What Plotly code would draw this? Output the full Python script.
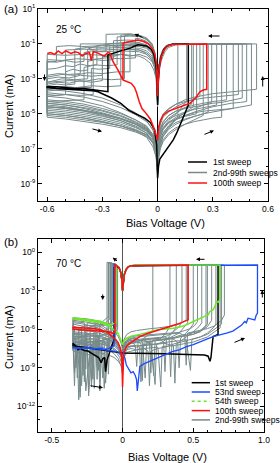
import plotly.graph_objects as go

W, H = 280, 463
FONT = "Liberation Sans, Arial, sans-serif"
GRAY = "#778a8a"
RED = "#ff1010"
BLUE = "#1a4cff"
GREEN = "#6ee62a"
BLACK = "#000000"

# ================= Panel (a) 25 °C : (bias V, log10 current in mA) =================
a_first_sweep = [
    (0.000, -8.7), (0.005, -8.0), (0.012, -7.6), (0.031, -7.3), (0.06, -6.9), (0.085, -6.5),
    (0.104, -6.1), (0.125, -5.6), (0.149, -5.0), (0.160, -4.7), (0.167, -4.5),
    (0.167, -1.0), (0.12, -1.0), (0.08, -1.02), (0.055, -1.1), (0.035, -1.3), (0.02, -1.7),
    (0.01, -2.2), (0.004, -3.0), (0.0, -4.5),
    (-0.004, -3.0), (-0.01, -2.2), (-0.02, -1.6), (-0.035, -1.3), (-0.06, -1.12), (-0.09, -1.06),
    (-0.107, -1.05), (-0.13, -1.15), (-0.145, -1.23), (-0.2, -1.4), (-0.24, -1.55), (-0.27, -1.64),
    (-0.27, -3.74), (-0.3, -3.7), (-0.35, -3.6), (-0.4, -3.55), (-0.45, -3.55), (-0.5, -3.5),
    (-0.55, -3.45), (-0.6, -3.45),
    (-0.6, -3.5), (-0.55, -3.55), (-0.5, -3.6), (-0.45, -3.62), (-0.4, -3.65), (-0.35, -3.68),
    (-0.324, -3.74), (-0.29, -3.9), (-0.25, -4.1), (-0.2, -4.4), (-0.158, -4.79), (-0.12, -5.0),
    (-0.07, -5.25), (-0.04, -5.5), (-0.016, -5.93), (-0.005, -6.8), (0.0, -8.7),
]

a_sweep_100 = [
    (0.000, -6.5), (0.005, -5.8), (0.015, -5.4), (0.031, -5.07), (0.06, -4.85), (0.09, -4.72),
    (0.122, -4.6), (0.15, -4.5), (0.176, -4.4), (0.195, -4.2), (0.212, -4.03), (0.222, -3.85),
    (0.23, -3.74), (0.248, -3.64), (0.267, -3.6),
    (0.267, -1.0), (0.2, -1.0), (0.12, -1.0), (0.08, -1.03), (0.055, -1.12), (0.035, -1.35),
    (0.02, -1.75), (0.01, -2.3), (0.004, -3.1), (0.0, -4.0),
    (-0.004, -2.8), (-0.007, -2.1), (-0.015, -1.6), (-0.025, -1.35), (-0.05, -1.0), (-0.08, -0.85),
    (-0.107, -0.78), (-0.14, -0.82), (-0.17, -0.9), (-0.188, -0.97),
    (-0.188, -3.07), (-0.215, -2.5), (-0.242, -2.02), (-0.26, -1.54),
    (-0.27, -1.5), (-0.29, -1.7), (-0.31, -1.6), (-0.33, -1.5), (-0.35, -1.45), (-0.36, -1.95),
    (-0.37, -1.5), (-0.39, -1.55), (-0.41, -1.7), (-0.43, -1.5), (-0.45, -1.45), (-0.47, -1.55),
    (-0.5, -1.4), (-0.52, -1.55), (-0.54, -1.4), (-0.56, -1.6), (-0.58, -1.5), (-0.6, -1.55),
    (None, None),
    (-0.188, -3.07), (-0.143, -3.26), (-0.125, -3.5), (-0.116, -3.74), (-0.1, -4.3),
    (-0.085, -4.7), (-0.07, -4.88), (-0.04, -5.3), (-0.016, -5.93), (0.0, -6.5),
]

a_gray_01 = [
    (0, -7.6), (0.005, -6.6), (0.015, -6.1), (0.03, -5.8), (0.06, -5.4), (0.09, -5.1), (0.12, -4.8),
    (0.14, -4.5), (0.158, -4.3), (0.158, -1.0), (0.1, -1.0), (0.07, -1.05), (0.045, -1.2),
    (0.03, -1.45), (0.015, -1.9), (0.006, -2.6), (0.0, -4.2), (-0.006, -2.6), (-0.015, -1.9),
    (-0.03, -1.45), (-0.06, -1.1), (-0.1, -0.92), (-0.15, -0.88), (-0.2, -0.95), (-0.25, -1.0),
    (-0.3, -1.05), (-0.33, -1.1), (-0.33, -2.2), (-0.38, -2.25), (-0.42, -2.15), (-0.46, -2.3),
    (-0.5, -2.25), (-0.55, -2.4), (-0.6, -2.45), (-0.6, -4.0), (-0.5, -4.1), (-0.4, -4.3),
    (-0.3, -4.55), (-0.2, -4.95), (-0.12, -5.35), (-0.06, -5.7), (-0.025, -6.2), (-0.008, -6.8), (0, -7.6),
]
a_gray_02 = [
    (0, -8.0), (0.005, -7.0), (0.015, -6.5), (0.03, -6.1), (0.06, -5.7), (0.1, -5.3), (0.14, -5.0),
    (0.17, -4.8), (0.194, -4.6), (0.194, -1.0), (0.1, -1.0), (0.06, -1.08), (0.04, -1.25),
    (0.025, -1.5), (0.012, -2.0), (0.005, -2.7), (0.0, -4.5), (-0.005, -2.5), (-0.012, -1.8),
    (-0.025, -1.2), (-0.05, -0.8), (-0.1, -0.55), (-0.15, -0.45), (-0.2, -0.5), (-0.2, -1.6),
    (-0.24, -1.65), (-0.28, -1.7), (-0.3, -1.75), (-0.3, -2.8), (-0.36, -2.85), (-0.42, -2.8),
    (-0.48, -2.95), (-0.54, -2.9), (-0.6, -3.0), (-0.6, -4.4), (-0.5, -4.5), (-0.4, -4.65),
    (-0.3, -4.85), (-0.2, -5.15), (-0.12, -5.5), (-0.06, -5.85), (-0.025, -6.4), (-0.008, -7.0), (0, -8.0),
]
a_gray_03 = [
    (0, -7.2), (0.005, -6.2), (0.015, -5.6), (0.03, -5.2), (0.06, -4.9), (0.1, -4.6), (0.15, -4.35),
    (0.2, -4.15), (0.23, -4.0), (0.23, -1.0), (0.12, -1.0), (0.08, -1.02), (0.05, -1.15),
    (0.03, -1.4), (0.015, -1.85), (0.006, -2.5), (0.0, -4.0), (-0.006, -2.7), (-0.015, -2.1),
    (-0.03, -1.7), (-0.06, -1.4), (-0.1, -1.25), (-0.2, -1.2), (-0.3, -1.25), (-0.38, -1.2),
    (-0.45, -1.3), (-0.45, -3.3), (-0.5, -3.35), (-0.55, -3.3), (-0.6, -3.4), (-0.6, -4.8),
    (-0.5, -4.9), (-0.4, -5.05), (-0.3, -5.25), (-0.2, -5.5), (-0.12, -5.8), (-0.06, -6.1),
    (-0.025, -6.5), (-0.008, -7.0), (0, -7.2),
]
a_gray_04 = [
    (0, -8.2), (0.005, -7.2), (0.015, -6.7), (0.03, -6.3), (0.06, -5.9), (0.1, -5.6), (0.15, -5.35),
    (0.2, -5.15), (0.25, -5.0), (0.275, -4.9), (0.275, -1.0), (0.12, -1.0), (0.07, -1.02),
    (0.045, -1.1), (0.03, -1.3), (0.015, -1.7), (0.006, -2.3), (0.0, -3.8), (-0.006, -2.2),
    (-0.015, -1.5), (-0.03, -1.0), (-0.06, -0.65), (-0.1, -0.5), (-0.15, -0.42), (-0.2, -0.43),
    (-0.28, -0.45), (-0.28, -1.4), (-0.32, -1.45), (-0.36, -1.4), (-0.4, -1.5), (-0.4, -2.0),
    (-0.45, -2.05), (-0.5, -1.95), (-0.55, -2.05), (-0.6, -2.0), (-0.6, -3.8), (-0.5, -3.9),
    (-0.4, -4.05), (-0.3, -4.3), (-0.2, -4.65), (-0.12, -5.05), (-0.06, -5.45), (-0.025, -5.9),
    (-0.008, -6.6), (0, -8.2),
]
a_gray_05 = [
    (0, -7.0), (0.005, -6.4), (0.015, -5.9), (0.03, -5.6), (0.06, -5.3), (0.1, -5.1), (0.15, -4.9),
    (0.2, -4.75), (0.25, -4.65), (0.3, -4.55), (0.321, -4.5), (0.321, -1.0), (0.15, -1.0),
    (0.09, -1.02), (0.06, -1.1), (0.04, -1.3), (0.02, -1.75), (0.008, -2.4), (0.0, -4.4),
    (-0.008, -2.8), (-0.02, -2.2), (-0.04, -1.8), (-0.07, -1.5), (-0.1, -1.35), (-0.2, -1.3),
    (-0.3, -1.35), (-0.4, -1.3), (-0.5, -1.35), (-0.5, -3.6), (-0.55, -3.65), (-0.6, -3.7),
    (-0.6, -5.1), (-0.5, -5.2), (-0.4, -5.35), (-0.3, -5.5), (-0.2, -5.7), (-0.12, -5.95),
    (-0.06, -6.2), (-0.025, -6.5), (-0.008, -6.8), (0, -7.0),
]
a_gray_06 = [
    (0, -8.4), (0.005, -7.4), (0.015, -6.9), (0.03, -6.5), (0.06, -6.1), (0.1, -5.8), (0.15, -5.6),
    (0.2, -5.45), (0.25, -5.35), (0.3, -5.25), (0.348, -5.2), (0.348, -1.0), (0.12, -1.0),
    (0.08, -1.02), (0.05, -1.12), (0.03, -1.35), (0.015, -1.8), (0.006, -2.45), (0.0, -4.3),
    (-0.006, -2.5), (-0.015, -1.8), (-0.03, -1.35), (-0.06, -1.1), (-0.1, -1.0), (-0.15, -1.0),
    (-0.15, -2.6), (-0.22, -2.6), (-0.3, -2.7), (-0.38, -2.65), (-0.45, -2.8), (-0.52, -2.75),
    (-0.6, -2.9), (-0.6, -4.2), (-0.5, -4.3), (-0.4, -4.45), (-0.3, -4.7), (-0.2, -5.0),
    (-0.12, -5.35), (-0.06, -5.75), (-0.025, -6.3), (-0.008, -7.1), (0, -8.4),
]
a_gray_07 = [
    (0, -7.4), (0.005, -6.5), (0.015, -5.9), (0.03, -5.5), (0.06, -5.1), (0.1, -4.85), (0.15, -4.65),
    (0.2, -4.5), (0.25, -4.4), (0.3, -4.3), (0.35, -4.25), (0.375, -4.2), (0.375, -1.0),
    (0.15, -1.0), (0.1, -1.05), (0.06, -1.2), (0.04, -1.45), (0.02, -1.95), (0.008, -2.6),
    (0.0, -4.6), (-0.008, -3.0), (-0.02, -2.5), (-0.04, -2.1), (-0.07, -1.85), (-0.1, -1.7),
    (-0.2, -1.6), (-0.3, -1.65), (-0.4, -1.6), (-0.5, -1.65), (-0.6, -1.6), (-0.6, -4.6),
    (-0.5, -4.7), (-0.4, -4.85), (-0.3, -5.05), (-0.2, -5.3), (-0.12, -5.6), (-0.06, -5.95),
    (-0.025, -6.4), (-0.008, -6.9), (0, -7.4),
]
a_gray_08 = [
    (0, -7.8), (0.005, -6.9), (0.015, -6.3), (0.03, -5.9), (0.06, -5.55), (0.1, -5.3), (0.15, -5.1),
    (0.2, -4.95), (0.25, -4.85), (0.3, -4.8), (0.35, -4.75), (0.411, -4.7), (0.411, -1.0),
    (0.12, -1.0), (0.075, -1.03), (0.05, -1.12), (0.03, -1.35), (0.015, -1.8), (0.006, -2.45),
    (0.0, -4.1), (-0.006, -2.3), (-0.015, -1.6), (-0.03, -1.15), (-0.06, -0.9), (-0.1, -0.8),
    (-0.17, -0.78), (-0.24, -0.82), (-0.24, -1.9), (-0.3, -1.95), (-0.34, -1.9), (-0.38, -2.0),
    (-0.38, -3.0), (-0.45, -3.05), (-0.52, -3.0), (-0.6, -3.2), (-0.6, -5.0), (-0.5, -5.1),
    (-0.4, -5.25), (-0.3, -5.45), (-0.2, -5.7), (-0.12, -5.95), (-0.06, -6.25), (-0.025, -6.7),
    (-0.008, -7.2), (0, -7.8),
]
a_gray_09 = [
    (0, -6.8), (0.005, -6.0), (0.015, -5.4), (0.03, -5.0), (0.06, -4.7), (0.1, -4.45), (0.15, -4.3),
    (0.2, -4.2), (0.25, -4.1), (0.3, -4.05), (0.35, -4.0), (0.4, -3.95), (0.439, -3.9),
    (0.439, -1.0), (0.12, -1.0), (0.08, -1.02), (0.05, -1.15), (0.03, -1.4), (0.015, -1.85),
    (0.006, -2.5), (0.0, -3.9), (-0.006, -2.6), (-0.015, -2.0), (-0.03, -1.55), (-0.06, -1.25),
    (-0.1, -1.15), (-0.2, -1.1), (-0.3, -1.1), (-0.4, -1.15), (-0.48, -1.1), (-0.55, -1.15),
    (-0.55, -2.0), (-0.6, -2.05), (-0.6, -4.4), (-0.5, -4.5), (-0.4, -4.7), (-0.3, -4.95),
    (-0.2, -5.25), (-0.12, -5.55), (-0.06, -5.85), (-0.025, -6.2), (-0.008, -6.5), (0, -6.8),
]
a_gray_10 = [
    (0, -8.0), (0.005, -7.1), (0.015, -6.5), (0.03, -6.1), (0.06, -5.7), (0.1, -5.35), (0.15, -5.1),
    (0.2, -4.9), (0.25, -4.75), (0.3, -4.6), (0.35, -4.5), (0.4, -4.4), (0.45, -4.35), (0.484, -4.3),
    (0.484, -1.0), (0.12, -1.0), (0.075, -1.03), (0.05, -1.1), (0.03, -1.3), (0.015, -1.75),
    (0.006, -2.4), (0.0, -4.0), (-0.006, -2.4), (-0.015, -1.7), (-0.03, -1.2), (-0.06, -0.85),
    (-0.1, -0.7), (-0.12, -0.68), (-0.12, -1.8), (-0.2, -1.85), (-0.28, -1.8), (-0.36, -1.9),
    (-0.44, -1.85), (-0.52, -1.95), (-0.6, -1.9), (-0.6, -3.6), (-0.5, -3.7), (-0.4, -3.85),
    (-0.3, -4.1), (-0.2, -4.5), (-0.12, -4.95), (-0.06, -5.4), (-0.025, -5.95), (-0.008, -6.8), (0, -8.0),
]
a_gray_11 = [
    (0, -7.0), (0.005, -6.1), (0.015, -5.5), (0.03, -5.1), (0.06, -4.75), (0.1, -4.45), (0.15, -4.2),
    (0.2, -4.05), (0.25, -3.95), (0.3, -3.85), (0.35, -3.8), (0.4, -3.75), (0.45, -3.7), (0.5, -3.65),
    (0.538, -3.6), (0.538, -1.0), (0.12, -1.0), (0.08, -1.02), (0.05, -1.15), (0.03, -1.4),
    (0.015, -1.85), (0.006, -2.5), (0.0, -4.3), (-0.006, -2.9), (-0.015, -2.3), (-0.03, -1.9),
    (-0.06, -1.6), (-0.1, -1.45), (-0.2, -1.4), (-0.3, -1.45), (-0.35, -1.4), (-0.35, -3.9),
    (-0.42, -3.95), (-0.5, -3.9), (-0.6, -4.0), (-0.6, -5.2), (-0.5, -5.3), (-0.4, -5.45),
    (-0.3, -5.6), (-0.2, -5.8), (-0.12, -6.05), (-0.06, -6.3), (-0.025, -6.6), (-0.008, -6.85), (0, -7.0),
]
a_gray_12 = [
    (0, -7.4), (0.005, -6.6), (0.015, -6.1), (0.03, -5.8), (0.06, -5.5), (0.1, -5.3), (0.15, -5.15),
    (0.19, -5.05), (0.212, -5.0), (0.212, -1.0), (0.12, -1.0), (0.08, -1.02), (0.05, -1.12),
    (0.03, -1.35), (0.015, -1.8), (0.006, -2.45), (0.0, -3.9), (-0.006, -2.45), (-0.015, -1.8),
    (-0.03, -1.35), (-0.06, -1.05), (-0.1, -0.95), (-0.2, -0.95), (-0.3, -1.0), (-0.42, -1.0),
    (-0.42, -2.7), (-0.48, -2.75), (-0.54, -2.7), (-0.6, -2.8), (-0.6, -4.7), (-0.5, -4.8),
    (-0.4, -4.95), (-0.3, -5.15), (-0.2, -5.4), (-0.12, -5.7), (-0.06, -6.0), (-0.025, -6.4),
    (-0.008, -6.9), (0, -7.4),
]
a_gray_13 = [
    (0, -8.5), (0.005, -7.5), (0.015, -6.8), (0.03, -6.3), (0.06, -5.8), (0.09, -5.4), (0.11, -5.2),
    (0.11, -1.0), (0.08, -1.02), (0.05, -1.15), (0.03, -1.4), (0.015, -1.85), (0.006, -2.5),
    (0.0, -4.5), (-0.006, -2.35), (-0.015, -1.65), (-0.03, -1.1), (-0.06, -0.75), (-0.1, -0.55),
    (-0.15, -0.5), (-0.18, -0.52), (-0.18, -3.0), (-0.25, -3.05), (-0.32, -3.0), (-0.4, -3.15),
    (-0.48, -3.1), (-0.6, -3.2), (-0.6, -4.9), (-0.5, -5.0), (-0.4, -5.15), (-0.3, -5.35),
    (-0.2, -5.6), (-0.12, -5.9), (-0.06, -6.2), (-0.025, -6.6), (-0.008, -7.2), (0, -8.5),
]
a_gray_14 = [
    (0, -7.9), (0.005, -6.9), (0.015, -6.3), (0.03, -5.9), (0.06, -5.5), (0.1, -5.2), (0.15, -4.95),
    (0.2, -4.7), (0.25, -4.5), (0.294, -4.35), (0.294, -1.0), (0.12, -1.0), (0.08, -1.02),
    (0.05, -1.12), (0.03, -1.35), (0.015, -1.8), (0.006, -2.45), (0.0, -4.0), (-0.006, -2.6),
    (-0.015, -2.0), (-0.03, -1.5), (-0.06, -1.2), (-0.1, -1.05), (-0.2, -1.05), (-0.26, -1.1),
    (-0.26, -2.4), (-0.32, -2.45), (-0.36, -2.4), (-0.36, -3.5), (-0.45, -3.5), (-0.52, -3.45),
    (-0.6, -3.6), (-0.6, -4.5), (-0.5, -4.6), (-0.4, -4.8), (-0.3, -5.0), (-0.2, -5.3),
    (-0.12, -5.6), (-0.06, -5.9), (-0.025, -6.3), (-0.008, -6.9), (0, -7.9),
]
# sweeps given as (positive HRS branch, negative branch); joined through the common LRS return
a_lrs_return = [(0.12, -1.0), (0.08, -1.02), (0.05, -1.12), (0.03, -1.35), (0.015, -1.8),
                (0.006, -2.45), (0.0, -4.2)]
a_gray_15_pos = [(0, -7.3), (0.005, -6.5), (0.015, -6.0), (0.03, -5.65), (0.06, -5.25), (0.1, -4.95),
                 (0.14, -4.7), (0.185, -4.45)]
a_gray_15_neg = [(-0.006, -2.5), (-0.015, -1.85), (-0.03, -1.4), (-0.06, -1.15), (-0.1, -1.05),
                 (-0.14, -1.1), (-0.18, -1.05), (-0.22, -1.15), (-0.26, -1.1), (-0.3, -1.2),
                 (-0.34, -1.15), (-0.38, -1.3), (-0.38, -2.5), (-0.42, -2.55), (-0.46, -2.45),
                 (-0.5, -2.6), (-0.5, -3.9), (-0.55, -3.95), (-0.6, -3.9), (-0.6, -4.3), (-0.5, -4.4),
                 (-0.4, -4.55), (-0.3, -4.8), (-0.2, -5.1), (-0.12, -5.45), (-0.06, -5.8),
                 (-0.025, -6.3), (-0.008, -6.9), (0, -7.3)]
a_gray_16_pos = [(0, -8.6), (0.005, -7.6), (0.015, -7.0), (0.03, -6.6), (0.06, -6.2), (0.1, -5.9),
                 (0.15, -5.6), (0.2, -5.35), (0.248, -5.1)]
a_gray_16_neg = [(-0.006, -2.9), (-0.015, -2.4), (-0.03, -2.0), (-0.06, -1.75), (-0.1, -1.6),
                 (-0.15, -1.7), (-0.2, -1.6), (-0.25, -1.75), (-0.3, -1.7), (-0.3, -3.1),
                 (-0.36, -3.2), (-0.42, -3.1), (-0.48, -3.25), (-0.54, -3.2), (-0.6, -3.3),
                 (-0.6, -4.6), (-0.5, -4.7), (-0.4, -4.85), (-0.3, -5.1), (-0.2, -5.4),
                 (-0.12, -5.75), (-0.06, -6.1), (-0.025, -6.7), (-0.008, -7.5), (0, -8.6)]
a_gray_17_pos = [(0, -7.1), (0.005, -6.3), (0.015, -5.8), (0.03, -5.45), (0.06, -5.1), (0.1, -4.85),
                 (0.15, -4.7), (0.2, -4.6), (0.25, -4.5), (0.3, -4.4), (0.35, -4.35), (0.4, -4.25),
                 (0.46, -4.1)]
a_gray_17_neg = [(-0.006, -2.2), (-0.015, -1.5), (-0.03, -1.0), (-0.06, -0.7), (-0.1, -0.58),
                 (-0.15, -0.55), (-0.22, -0.6), (-0.22, -2.2), (-0.28, -2.25), (-0.34, -2.2),
                 (-0.4, -2.35), (-0.4, -4.2), (-0.5, -4.25), (-0.6, -4.3), (-0.6, -4.6),
                 (-0.5, -4.65), (-0.4, -4.8), (-0.3, -5.0), (-0.2, -5.3), (-0.12, -5.6),
                 (-0.06, -5.95), (-0.025, -6.4), (-0.008, -6.8), (0, -7.1)]
a_gray_18_pos = [(0, -8.1), (0.005, -7.2), (0.015, -6.6), (0.03, -6.2), (0.06, -5.8), (0.1, -5.5),
                 (0.15, -5.3), (0.2, -5.15), (0.25, -5.0), (0.3, -4.9), (0.35, -4.8), (0.4, -4.7),
                 (0.45, -4.6), (0.51, -4.5)]
a_gray_18_neg = [(-0.006, -2.7), (-0.015, -2.2), (-0.03, -1.8), (-0.06, -1.5), (-0.1, -1.35),
                 (-0.16, -1.3), (-0.2, -1.35), (-0.2, -3.4), (-0.28, -3.45), (-0.36, -3.4),
                 (-0.44, -3.5), (-0.52, -3.45), (-0.6, -3.5), (-0.6, -5.0), (-0.5, -5.1),
                 (-0.4, -5.25), (-0.3, -5.45), (-0.2, -5.7), (-0.12, -6.0), (-0.06, -6.35),
                 (-0.025, -6.9), (-0.008, -7.5), (0, -8.1)]

a_gray_sweeps = [a_gray_01, a_gray_02, a_gray_03, a_gray_04, a_gray_05, a_gray_06, a_gray_07,
                 a_gray_08, a_gray_09, a_gray_10, a_gray_11, a_gray_12, a_gray_13, a_gray_14]
a_gray_pairs = [(a_gray_15_pos, a_gray_15_neg), (a_gray_16_pos, a_gray_16_neg),
                (a_gray_17_pos, a_gray_17_neg), (a_gray_18_pos, a_gray_18_neg)]
a_compliance = -1.0

# ================= Panel (b) 70 °C =================
b_compliance = -1.0
b_lrs_dip = [(0.10, -1.0), (0.06, -1.05), (0.04, -1.15), (0.025, -1.35), (0.012, -1.75),
             (0.005, -2.3), (0.0, -3.0), (-0.005, -2.2), (-0.012, -1.6), (-0.025, -1.2)]

b_first_pos = [(0, -7.85), (0.1, -7.85), (0.2, -7.9), (0.3, -7.9), (0.4, -7.95), (0.5, -7.95),
               (0.58, -8.0), (0.605, -8.1), (0.618, -8.5), (0.625, -8.2), (0.64, -6.57),
               (0.655, -6.5), (0.675, -6.4)]
b_first_neg = [(-0.045, -1.15), (-0.06, -1.2), (-0.06, -6.8), (-0.085, -7.6), (-0.1, -8.0),
               (-0.11, -8.4), (-0.12, -9.3), (-0.127, -8.2), (-0.14, -8.3), (-0.151, -8.6),
               (-0.17, -8.2), (-0.2, -8.0), (-0.22, -7.8), (-0.245, -7.7), (-0.27, -7.65),
               (-0.3, -7.5), (-0.315, -7.6), (-0.33, -7.3), (-0.35, -7.1), (-0.35, -7.3),
               (-0.25, -7.45), (-0.15, -7.6), (-0.05, -7.75), (0, -7.85)]

b_53rd_pos = [(0, -7.9), (0.017, -8.25), (0.026, -8.77), (0.045, -9.2), (0.059, -9.4), (0.075, -9.3),
              (0.09, -9.6), (0.099, -9.93), (0.104, -10.8), (0.11, -10.2), (0.115, -9.5),
              (0.122, -8.9), (0.15, -8.7), (0.193, -8.5), (0.24, -8.25), (0.287, -8.0),
              (0.35, -7.75), (0.4, -7.6), (0.452, -7.35), (0.5, -7.2), (0.55, -7.0), (0.6, -6.75),
              (0.64, -6.57), (0.69, -6.45), (0.735, -6.3), (0.78, -6.15), (0.817, -5.9),
              (0.84, -5.7), (0.864, -5.4), (0.875, -5.5), (0.887, -5.14), (0.91, -5.2),
              (0.935, -5.27), (0.945, -4.9), (0.954, -4.75)]
b_53rd_neg = [(-0.04, -1.05), (-0.06, -0.95), (-0.06, -7.3), (-0.1, -7.5), (-0.127, -7.6),
              (-0.15, -7.45), (-0.2, -7.55), (-0.25, -7.4), (-0.3, -7.5), (-0.35, -7.45),
              (-0.35, -7.4), (-0.3, -7.45), (-0.2, -7.5), (-0.1, -7.65), (-0.04, -7.75), (0, -7.9)]

b_54th_pos = [(0, -7.2), (0.01, -6.9), (0.03, -6.7), (0.06, -6.55), (0.122, -6.4), (0.18, -6.2),
              (0.24, -6.05), (0.3, -5.98), (0.358, -5.92), (0.41, -5.8), (0.452, -5.66),
              (0.5, -5.4), (0.546, -5.14), (0.58, -5.0), (0.605, -4.88), (0.617, -4.63),
              (0.64, -4.5), (0.652, -4.24), (0.664, -3.85), (0.675, -3.9), (0.688, -3.7)]
b_54th_neg = [(-0.045, -1.0), (-0.045, -5.5), (-0.09, -5.66), (-0.15, -5.4), (-0.2, -5.3),
              (-0.25, -5.25), (-0.3, -5.18), (-0.35, -5.14), (-0.35, -5.2), (-0.25, -5.35),
              (-0.15, -5.5), (-0.09, -5.8), (-0.033, -6.3), (-0.01, -6.9), (0, -7.2)]

b_100th_pos = [(0, -10.5), (0.003, -8.5), (0.008, -7.8), (0.017, -7.6), (0.03, -7.3), (0.052, -7.08),
               (0.08, -6.85), (0.122, -6.57), (0.17, -6.35), (0.216, -6.18), (0.27, -6.0),
               (0.334, -5.79), (0.39, -5.6), (0.43, -5.45), (0.464, -5.27)]
b_100th_neg = [(-0.04, -1.08), (-0.054, -0.98), (-0.054, -6.2), (-0.07, -6.3), (-0.1, -6.2),
               (-0.15, -6.15), (-0.2, -6.1), (-0.25, -6.05), (-0.3, -6.0), (-0.35, -6.0),
               (-0.35, -5.85), (-0.3, -5.88), (-0.25, -5.9), (-0.2, -5.95), (-0.15, -6.05),
               (-0.1, -6.3), (-0.06, -6.7), (-0.033, -7.0), (-0.015, -7.5), (-0.005, -8.3), (0, -10.5)]

b_gray_01_pos = [(0, -8.6), (0.01, -7.4), (0.03, -7.0), (0.06, -6.8), (0.09, -7.3), (0.1, -8.9),
                 (0.11, -7.0), (0.15, -6.7), (0.19, -6.4), (0.214, -6.1)]
b_gray_01_neg = [(-0.05, -0.95), (-0.08, -0.85), (-0.10, -0.82), (-0.10, -5.0), (-0.13, -5.3),
                 (-0.16, -5.6), (-0.18, -8.9), (-0.19, -5.7), (-0.23, -5.8), (-0.26, -6.0),
                 (-0.28, -9.6), (-0.29, -6.1), (-0.32, -6.0), (-0.35, -5.9), (-0.35, -5.6),
                 (-0.3, -5.7), (-0.25, -5.8), (-0.2, -5.95), (-0.15, -6.15), (-0.1, -6.45),
                 (-0.06, -6.8), (-0.03, -7.2), (-0.01, -7.8), (0, -8.6)]
b_gray_02_pos = [(0, -8.0), (0.01, -7.2), (0.03, -6.9), (0.06, -6.75), (0.1, -6.7), (0.14, -7.0),
                 (0.16, -9.8), (0.17, -7.1), (0.22, -6.9), (0.26, -6.8), (0.3, -6.4), (0.32, -6.0),
                 (0.335, -5.8)]
b_gray_02_neg = [(-0.04, -1.0), (-0.04, -6.3), (-0.07, -6.6), (-0.1, -6.8), (-0.12, -10.2),
                 (-0.13, -6.9), (-0.17, -7.0), (-0.21, -7.1), (-0.24, -11.0), (-0.25, -7.2),
                 (-0.3, -7.1), (-0.35, -7.0), (-0.35, -6.6), (-0.3, -6.65), (-0.2, -6.75),
                 (-0.15, -6.9), (-0.1, -7.05), (-0.06, -7.3), (-0.03, -7.6), (-0.01, -7.9), (0, -8.0)]
b_gray_03_pos = [(0, -9.0), (0.01, -7.8), (0.03, -7.4), (0.06, -7.3), (0.1, -7.4), (0.15, -7.2),
                 (0.2, -7.1), (0.23, -10.3), (0.24, -7.2), (0.28, -7.0), (0.32, -6.7), (0.35, -6.3),
                 (0.37, -6.0), (0.38, -5.7)]
b_gray_03_neg = [(-0.05, -0.95), (-0.07, -0.9), (-0.07, -5.4), (-0.1, -5.6), (-0.14, -5.75),
                 (-0.17, -5.8), (-0.2, -5.85), (-0.22, -10.5), (-0.23, -6.0), (-0.27, -5.95),
                 (-0.31, -6.1), (-0.33, -9.0), (-0.34, -6.0), (-0.35, -5.9), (-0.35, -5.3),
                 (-0.3, -5.35), (-0.25, -5.45), (-0.2, -5.6), (-0.15, -5.85), (-0.1, -6.2),
                 (-0.06, -6.7), (-0.03, -7.3), (-0.01, -8.1), (0, -9.0)]
b_gray_04_pos = [(0, -8.3), (0.01, -7.5), (0.03, -7.2), (0.06, -7.0), (0.1, -6.95), (0.15, -6.8),
                 (0.2, -6.75), (0.25, -6.7), (0.29, -7.0), (0.3, -9.3), (0.31, -6.8), (0.35, -6.55),
                 (0.4, -6.3), (0.43, -5.9), (0.46, -5.5)]
b_gray_04_neg = [(-0.05, -1.0), (-0.05, -7.0), (-0.08, -7.3), (-0.11, -7.6), (-0.14, -9.8),
                 (-0.15, -7.5), (-0.19, -7.4), (-0.23, -7.6), (-0.26, -10.8), (-0.27, -7.5),
                 (-0.31, -7.4), (-0.35, -7.3), (-0.35, -6.9), (-0.3, -6.95), (-0.2, -7.05),
                 (-0.15, -7.15), (-0.1, -7.3), (-0.06, -7.5), (-0.03, -7.8), (-0.01, -8.1), (0, -8.3)]
b_gray_05_pos = [(0, -8.8), (0.01, -7.7), (0.03, -7.3), (0.06, -7.1), (0.1, -7.0), (0.13, -7.1),
                 (0.14, -10.0), (0.15, -7.1), (0.2, -6.95), (0.25, -6.85), (0.3, -6.8), (0.35, -6.7),
                 (0.39, -7.0), (0.4, -9.0), (0.41, -6.7), (0.45, -6.3), (0.48, -5.9), (0.5, -5.6)]
b_gray_05_neg = [(-0.05, -0.95), (-0.09, -0.85), (-0.09, -5.2), (-0.12, -5.5), (-0.16, -5.65),
                 (-0.2, -5.7), (-0.25, -5.7), (-0.29, -5.8), (-0.3, -11.3), (-0.31, -5.9),
                 (-0.35, -5.75), (-0.35, -5.2), (-0.3, -5.25), (-0.25, -5.3), (-0.2, -5.45),
                 (-0.15, -5.7), (-0.1, -6.05), (-0.06, -6.5), (-0.03, -7.1), (-0.01, -7.9), (0, -8.8)]
b_gray_06_pos = [(0, -7.9), (0.01, -7.1), (0.03, -6.8), (0.06, -6.6), (0.1, -6.5), (0.15, -6.45),
                 (0.2, -6.4), (0.25, -6.35), (0.3, -6.3), (0.35, -6.3), (0.4, -6.25), (0.44, -6.1),
                 (0.48, -5.95), (0.51, -5.7), (0.53, -5.4)]
b_gray_06_neg = [(-0.035, -1.05), (-0.035, -6.0), (-0.06, -6.4), (-0.09, -6.6), (-0.1, -9.5),
                 (-0.11, -6.7), (-0.15, -6.9), (-0.19, -6.95), (-0.2, -10.6), (-0.21, -7.0),
                 (-0.26, -6.9), (-0.3, -6.85), (-0.32, -9.8), (-0.33, -6.8), (-0.35, -6.7),
                 (-0.35, -6.2), (-0.3, -6.25), (-0.2, -6.4), (-0.15, -6.55), (-0.1, -6.75),
                 (-0.06, -7.0), (-0.03, -7.3), (-0.01, -7.6), (0, -7.9)]
b_gray_07_pos = [(0, -9.2), (0.01, -8.0), (0.03, -7.6), (0.06, -7.5), (0.1, -7.6), (0.15, -7.5),
                 (0.18, -7.7), (0.19, -10.4), (0.2, -7.7), (0.25, -7.5), (0.3, -7.4), (0.35, -7.2),
                 (0.4, -7.0), (0.45, -6.6), (0.5, -6.2), (0.54, -5.8), (0.56, -5.5)]
b_gray_07_neg = [(-0.05, -0.95), (-0.08, -0.85), (-0.11, -0.8), (-0.11, -6.5), (-0.14, -6.8),
                 (-0.17, -7.0), (-0.2, -7.1), (-0.21, -9.9), (-0.22, -7.2), (-0.26, -7.3),
                 (-0.3, -7.35), (-0.31, -11.5), (-0.32, -7.4), (-0.35, -7.3), (-0.35, -7.6),
                 (-0.3, -7.65), (-0.2, -7.75), (-0.15, -7.85), (-0.1, -8.0), (-0.06, -8.2),
                 (-0.03, -8.5), (-0.01, -8.8), (0, -9.2)]
b_gray_08_pos = [(0, -8.5), (0.01, -7.6), (0.03, -7.3), (0.06, -7.1), (0.1, -7.05), (0.15, -7.0),
                 (0.2, -6.9), (0.22, -9.6), (0.23, -6.9), (0.3, -6.8), (0.35, -6.75), (0.4, -6.6),
                 (0.45, -6.5), (0.5, -6.4), (0.55, -6.2), (0.58, -5.9), (0.6, -5.6)]
b_gray_08_neg = [(-0.04, -1.0), (-0.06, -0.95), (-0.06, -5.6), (-0.09, -5.9), (-0.12, -6.1),
                 (-0.16, -6.2), (-0.17, -9.2), (-0.18, -6.3), (-0.22, -6.35), (-0.26, -6.4),
                 (-0.27, -10.1), (-0.28, -6.45), (-0.32, -6.4), (-0.35, -6.3), (-0.35, -5.9),
                 (-0.3, -5.95), (-0.2, -6.05), (-0.15, -6.2), (-0.1, -6.45), (-0.06, -6.8),
                 (-0.03, -7.3), (-0.01, -7.9), (0, -8.5)]
b_gray_09_pos = [(0, -8.1), (0.01, -7.3), (0.03, -7.0), (0.06, -6.85), (0.1, -6.8), (0.15, -6.75),
                 (0.2, -6.7), (0.25, -6.65), (0.3, -6.6), (0.33, -6.8), (0.34, -9.7), (0.35, -6.7),
                 (0.4, -6.5), (0.45, -6.4), (0.5, -6.3), (0.55, -6.15), (0.6, -5.8), (0.63, -5.3)]
b_gray_09_neg = [(-0.05, -0.95), (-0.08, -0.88), (-0.08, -6.8), (-0.11, -7.1), (-0.13, -10.6),
                 (-0.14, -7.2), (-0.18, -7.3), (-0.22, -7.35), (-0.25, -7.4), (-0.29, -7.3),
                 (-0.3, -10.9), (-0.31, -7.3), (-0.35, -7.2), (-0.35, -6.4), (-0.3, -6.45),
                 (-0.2, -6.55), (-0.15, -6.7), (-0.1, -6.9), (-0.06, -7.2), (-0.03, -7.5),
                 (-0.01, -7.8), (0, -8.1)]
b_gray_10_pos = [(0, -8.7), (0.01, -7.8), (0.03, -7.4), (0.06, -7.3), (0.1, -7.25), (0.12, -7.4),
                 (0.13, -10.1), (0.14, -7.3), (0.2, -7.2), (0.25, -7.1), (0.3, -7.0), (0.35, -6.95),
                 (0.4, -6.9), (0.45, -6.8), (0.48, -9.2), (0.49, -6.8), (0.55, -6.6), (0.6, -6.3),
                 (0.64, -5.9), (0.66, -5.6)]
b_gray_10_neg = [(-0.045, -1.0), (-0.045, -5.8), (-0.07, -6.1), (-0.1, -6.3), (-0.14, -6.4),
                 (-0.17, -6.5), (-0.18, -9.9), (-0.19, -6.5), (-0.24, -6.55), (-0.28, -6.6),
                 (-0.33, -6.5), (-0.34, -9.4), (-0.35, -6.5), (-0.35, -5.5), (-0.3, -5.55),
                 (-0.25, -5.65), (-0.2, -5.8), (-0.15, -6.0), (-0.1, -6.35), (-0.06, -6.8),
                 (-0.03, -7.4), (-0.01, -8.0), (0, -8.7)]
b_gray_11_pos = [(0, -9.5), (0.01, -8.2), (0.03, -7.8), (0.06, -7.7), (0.1, -7.6), (0.15, -7.5),
                 (0.2, -7.45), (0.25, -7.4), (0.27, -10.5), (0.28, -7.35), (0.35, -7.3), (0.4, -7.2),
                 (0.45, -7.1), (0.5, -7.0), (0.55, -6.8), (0.6, -6.6), (0.65, -6.2), (0.69, -5.9)]
b_gray_11_neg = [(-0.05, -0.95), (-0.08, -0.85), (-0.1, -0.82), (-0.1, -7.5), (-0.12, -7.8),
                 (-0.15, -8.0), (-0.16, -10.8), (-0.17, -8.0), (-0.21, -7.9), (-0.25, -8.0),
                 (-0.29, -7.9), (-0.33, -7.8), (-0.35, -7.7), (-0.35, -7.0), (-0.3, -7.05),
                 (-0.2, -7.2), (-0.15, -7.35), (-0.1, -7.6), (-0.06, -7.9), (-0.03, -8.3),
                 (-0.01, -8.9), (0, -9.5)]
b_gray_12_pos = [(0, -8.0), (0.01, -7.2), (0.03, -6.9), (0.06, -6.7), (0.1, -6.6), (0.15, -6.55),
                 (0.2, -6.5), (0.25, -6.45), (0.3, -6.4), (0.35, -6.35), (0.4, -6.3), (0.44, -6.5),
                 (0.45, -8.8), (0.46, -6.3), (0.5, -6.2), (0.55, -6.1), (0.6, -5.95), (0.65, -5.75),
                 (0.7, -5.3), (0.72, -4.9)]
b_gray_12_neg = [(-0.04, -1.0), (-0.055, -0.97), (-0.055, -6.3), (-0.08, -6.6), (-0.11, -6.8),
                 (-0.15, -6.9), (-0.2, -6.95), (-0.23, -7.0), (-0.24, -11.2), (-0.25, -7.0),
                 (-0.3, -7.05), (-0.35, -7.0), (-0.35, -6.0), (-0.3, -6.05), (-0.2, -6.2),
                 (-0.15, -6.35), (-0.1, -6.6), (-0.06, -6.9), (-0.03, -7.3), (-0.01, -7.7), (0, -8.0)]
b_gray_13_pos = [(0, -8.4), (0.01, -7.5), (0.03, -7.15), (0.06, -7.0), (0.1, -6.9), (0.15, -6.85),
                 (0.2, -6.8), (0.26, -6.7), (0.32, -6.5), (0.36, -6.2), (0.4, -5.8), (0.42, -5.4)]
b_gray_13_neg = [(-0.045, -1.0), (-0.065, -0.93), (-0.065, -7.2), (-0.09, -7.5), (-0.12, -7.6),
                 (-0.16, -7.7), (-0.2, -7.65), (-0.25, -7.7), (-0.28, -7.75), (-0.29, -10.4),
                 (-0.3, -7.7), (-0.35, -7.6), (-0.35, -6.7), (-0.3, -6.75), (-0.2, -6.85),
                 (-0.15, -7.0), (-0.1, -7.2), (-0.06, -7.5), (-0.03, -7.8), (-0.01, -8.1), (0, -8.4)]
b_gray_14_pos = [(0, -7.6), (0.01, -6.8), (0.03, -6.4), (0.06, -6.2), (0.1, -6.1), (0.15, -6.0),
                 (0.2, -5.95), (0.25, -5.9), (0.3, -5.85), (0.35, -5.75), (0.4, -5.6), (0.45, -5.3)]
b_gray_14_neg = [(-0.05, -0.95), (-0.075, -0.9), (-0.075, -5.5), (-0.1, -5.7), (-0.15, -5.6),
                 (-0.2, -5.55), (-0.25, -5.5), (-0.26, -9.1), (-0.27, -5.5), (-0.3, -5.45),
                 (-0.35, -5.4), (-0.35, -5.1), (-0.25, -5.2), (-0.15, -5.4), (-0.1, -5.7),
                 (-0.06, -6.1), (-0.03, -6.6), (-0.01, -7.1), (0, -7.6)]
b_gray_15_pos = [(0, -8.2), (0.01, -7.4), (0.03, -7.1), (0.06, -6.95), (0.1, -6.9), (0.15, -6.85),
                 (0.19, -7.0), (0.2, -9.4), (0.21, -6.85), (0.3, -6.75), (0.4, -6.6), (0.5, -6.4),
                 (0.55, -6.1), (0.59, -5.7)]
b_gray_15_neg = [(-0.05, -0.95), (-0.085, -0.86), (-0.085, -6.1), (-0.11, -6.4), (-0.15, -6.5),
                 (-0.2, -6.55), (-0.22, -10.0), (-0.23, -6.6), (-0.28, -6.6), (-0.35, -6.55),
                 (-0.35, -6.3), (-0.25, -6.4), (-0.15, -6.6), (-0.1, -6.8), (-0.05, -7.2),
                 (-0.02, -7.7), (0, -8.2)]
b_gray_16_pos = [(0, -8.9), (0.01, -7.9), (0.03, -7.5), (0.06, -7.35), (0.1, -7.3), (0.2, -7.2),
                 (0.3, -7.1), (0.36, -7.3), (0.37, -10.2), (0.38, -7.1), (0.45, -6.9), (0.5, -6.8),
                 (0.55, -6.6), (0.6, -6.4), (0.65, -6.0), (0.7, -5.6)]
b_gray_16_neg = [(-0.04, -1.0), (-0.05, -0.97), (-0.05, -6.6), (-0.08, -6.9), (-0.12, -7.0),
                 (-0.15, -7.1), (-0.16, -9.6), (-0.17, -7.1), (-0.22, -7.2), (-0.27, -7.15),
                 (-0.33, -7.2), (-0.34, -10.4), (-0.35, -7.1), (-0.35, -6.8), (-0.25, -6.9),
                 (-0.15, -7.1), (-0.1, -7.3), (-0.05, -7.7), (-0.02, -8.2), (0, -8.9)]

b_gray_pairs = [(b_gray_01_pos, b_gray_01_neg), (b_gray_02_pos, b_gray_02_neg),
                (b_gray_03_pos, b_gray_03_neg), (b_gray_04_pos, b_gray_04_neg),
                (b_gray_05_pos, b_gray_05_neg), (b_gray_06_pos, b_gray_06_neg),
                (b_gray_07_pos, b_gray_07_neg), (b_gray_08_pos, b_gray_08_neg),
                (b_gray_09_pos, b_gray_09_neg), (b_gray_10_pos, b_gray_10_neg),
                (b_gray_11_pos, b_gray_11_neg), (b_gray_12_pos, b_gray_12_neg),
                (b_gray_13_pos, b_gray_13_neg), (b_gray_14_pos, b_gray_14_neg),
                (b_gray_15_pos, b_gray_15_neg), (b_gray_16_pos, b_gray_16_neg)]

# ticks
a_x_ticks = [-0.6, -0.3, 0, 0.3, 0.6]
a_x_ticktext = ["-0.6", "-0.3", "0", "0.3", "0.6"]
a_y_exps = [1, -1, -3, -5, -7, -9]
b_x_ticks = [-0.5, 0, 0.5, 1.0]
b_x_ticktext = ["-0.5", "0", "0.5", "1.0"]
b_y_exps = [0, -3, -6, -9, -12]

a_legend_labels = ["1st sweep", "2nd-99th sweeps", "100th sweep"]
a_legend_colors = [BLACK, GRAY, RED]
b_legend_labels = ["1st sweep", "53nd sweep", "54th sweep", "100th sweep", "2nd-99th sweeps"]
b_legend_colors = [BLACK, BLUE, GREEN, RED, GRAY]


def sweep_a(pos, neg):
    return pos + [(pos[-1][0], a_compliance)] + a_lrs_return + neg


def sweep_b(pos, neg):
    return pos + [(pos[-1][0], b_compliance)] + b_lrs_dip + neg


def unzip(pts):
    xs = [p[0] for p in pts]
    ys = [None if p[1] is None else 10 ** p[1] for p in pts]
    return xs, ys


def px(x):
    return x / W


def py(y):
    return 1 - y / H


fig = go.Figure()


def add(pts, color, width, xa, ya, dash="solid"):
    xs, ys = unzip(pts)
    fig.add_trace(go.Scatter(x=xs, y=ys, mode="lines", xaxis=xa, yaxis=ya,
                             line=dict(color=color, width=width, dash=dash),
                             showlegend=False, hoverinfo="skip"))


for s in a_gray_sweeps:
    add(s, GRAY, 1.0, "x", "y")
for pos, neg in a_gray_pairs:
    add(sweep_a(pos, neg), GRAY, 1.0, "x", "y")
add(a_first_sweep, BLACK, 1.5, "x", "y")
add(a_sweep_100, RED, 1.5, "x", "y")

for pos, neg in b_gray_pairs:
    add(sweep_b(pos, neg), GRAY, 1.0, "x2", "y2")
add(sweep_b(b_first_pos, b_first_neg), BLACK, 1.5, "x2", "y2")
add(sweep_b(b_53rd_pos, b_53rd_neg), BLUE, 1.3, "x2", "y2")
add(sweep_b(b_54th_pos, b_54th_neg), GREEN, 1.5, "x2", "y2")
add(sweep_b(b_100th_pos, b_100th_neg), RED, 1.5, "x2", "y2")

tickfont = dict(family=FONT, size=8.5, color="black")
common = dict(showline=True, linecolor="black", linewidth=1, mirror="allticks",
              ticks="inside", ticklen=4, tickwidth=1, tickcolor="black", showgrid=False,
              tickfont=tickfont, layer="above traces", automargin=False)


def sup(e):
    return "10<sup>%d</sup>" % e


fig.update_layout(
    width=W, height=H, margin=dict(l=0, r=0, t=0, b=0),
    paper_bgcolor="white", plot_bgcolor="white", showlegend=False,
    xaxis=dict(domain=[38 / W, 268 / W], range=[-0.65, 0.6], anchor="y",
               tickmode="array", tickvals=a_x_ticks, ticktext=a_x_ticktext,
               minor=dict(ticks="inside", ticklen=2, tickcolor="black",
                          tickvals=[-0.5, -0.4, -0.2, -0.1, 0.1, 0.2, 0.4, 0.5]),
               zeroline=True, zerolinecolor="black", zerolinewidth=1, **common),
    yaxis=dict(domain=[1 - 201 / H, 1 - 9 / H], type="log", range=[-10, 1], anchor="x",
               tickmode="array", tickvals=[10 ** e for e in a_y_exps],
               ticktext=[sup(e) for e in a_y_exps],
               minor=dict(ticks="inside", ticklen=2, tickcolor="black",
                          tickvals=[10 ** e for e in range(-10, 2)]),
               zeroline=False, **common),
    xaxis2=dict(domain=[37.7 / W, 264 / W], range=[-0.6, 1.0], anchor="y2",
                tickmode="array", tickvals=b_x_ticks, ticktext=b_x_ticktext,
                minor=dict(ticks="inside", ticklen=2, tickcolor="black",
                           tickvals=[-0.4, -0.3, -0.2, -0.1, 0.1, 0.2, 0.3, 0.4, 0.6, 0.7, 0.8, 0.9]),
                zeroline=True, zerolinecolor="#555555", zerolinewidth=1, **common),
    yaxis2=dict(domain=[1 - 432 / H, 1 - 239.3 / H], type="log", range=[-14, 1], anchor="x2",
                tickmode="array", tickvals=[10 ** e for e in b_y_exps],
                ticktext=[sup(e) for e in b_y_exps],
                minor=dict(ticks="inside", ticklen=2, tickcolor="black",
                           tickvals=[10 ** e for e in range(-14, 2)]),
                zeroline=False, **common),
)

ann = []
shapes = []


def text(t, x, y, size, xanchor="left", angle=0):
    ann.append(dict(text=t, x=px(x), y=py(y), xref="paper", yref="paper", showarrow=False,
                    xanchor=xanchor, yanchor="middle", textangle=angle,
                    font=dict(family=FONT, size=size, color="black")))


text("(a)", 1.5, 9.5, 11.5)
text("(b)", 1.5, 241.5, 11.5)
text("25 °C", 54, 29.5, 10)
text("70 °C", 53.5, 263, 10)
text("Current (mA)", 9, 106, 11, xanchor="center", angle=-90)
text("Current (mA)", 9, 337, 11, xanchor="center", angle=-90)
text("Bias Voltage (V)", 165, 223, 11, xanchor="center")
text("Bias Voltage (V)", 167, 456.5, 11, xanchor="center")

for i, (lab, col) in enumerate(zip(a_legend_labels, a_legend_colors)):
    yy = 162 + i * 10.5
    shapes.append(dict(type="line", xref="paper", yref="paper", x0=px(188), x1=px(207),
                       y0=py(yy), y1=py(yy), line=dict(color=col, width=1.5)))
    text(lab, 211, yy, 8.5)

for i, (lab, col) in enumerate(zip(b_legend_labels, b_legend_colors)):
    yy = 382.7 + i * 9.3
    shapes.append(dict(type="line", xref="paper", yref="paper", x0=px(191.7), x1=px(210),
                       y0=py(yy), y1=py(yy),
                       line=dict(color=col, width=1.5, dash="dot" if lab == "54th sweep" else "solid")))
    text(lab, 213, yy, 8.5)


def arrow(hx, hy, tx, ty):
    ann.append(dict(text="", x=px(hx), y=py(hy), xref="paper", yref="paper",
                    ax=tx - hx, ay=ty - hy, axref="pixel", ayref="pixel",
                    showarrow=True, arrowhead=2, arrowsize=0.8, arrowwidth=1,
                    arrowcolor="black", standoff=0, startstandoff=0))


# panel (a) arrows
arrow(208, 36, 221, 36)
arrow(262.7, 76, 262.7, 88)
arrow(44.5, 81, 44.5, 73)
arrow(102, 131.5, 91, 128.5)
arrow(214, 130.5, 203, 135)
arrow(134.5, 34, 144, 38)
# panel (b) arrows
arrow(196, 259.3, 206, 259.3)
arrow(262.3, 290, 262.3, 299)
arrow(102.7, 300, 102.7, 293)
arrow(112.7, 257.7, 118.5, 262)
arrow(103, 387.7, 89, 385.5)
arrow(245, 338, 233, 343)

fig.update_layout(annotations=ann, shapes=shapes)
fig.write_html("out.html", config={"displayModeBar": False},
               post_script="document.body.style.margin='0';document.body.style.overflow='hidden';")
